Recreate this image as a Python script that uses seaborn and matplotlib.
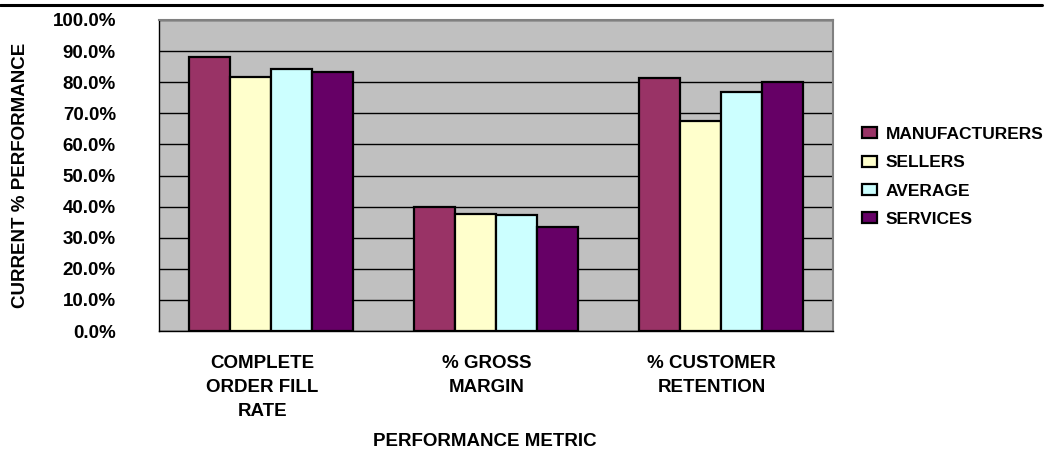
import matplotlib
matplotlib.use("Agg")
import matplotlib.pyplot as plt
from matplotlib.lines import Line2D
from matplotlib.patches import Patch
from matplotlib.transforms import ScaledTranslation
from matplotlib.ticker import FixedLocator, PercentFormatter
import numpy as np
import pandas as pd
import seaborn as sns

# Performance metrics (categories) and the groups compared on each
metrics = ["COMPLETE\nORDER FILL\nRATE", "% GROSS\nMARGIN", "% CUSTOMER\nRETENTION"]
groups = ["MANUFACTURERS", "SELLERS", "AVERAGE", "SERVICES"]

manufacturers = [88.2, 40.0, 81.4]
sellers = [81.8, 37.6, 67.6]
average = [84.1, 37.2, 76.8]
services = [83.4, 33.5, 80.2]

y_ticks = [0, 10, 20, 30, 40, 50, 60, 70, 80, 90, 100]

colors = ["#993366", "#FFFFCC", "#CCFFFF", "#660066"]

df = pd.DataFrame({
    "metric": metrics * 4,
    "group": [g for g in groups for _ in metrics],
    "value": manufacturers + sellers + average + services,
})

sns.set_theme(style="white")
plt.rcParams["font.family"] = ["Liberation Sans", "DejaVu Sans"]
plt.rcParams["font.weight"] = "bold"
plt.rcParams["text.color"] = "black"
plt.rcParams["xtick.color"] = "black"
plt.rcParams["ytick.color"] = "black"
plt.rcParams["axes.labelcolor"] = "black"

FS = 13.5

fig = plt.figure(figsize=(10.55, 4.49), dpi=100)
ax = fig.add_axes([159 / 1055, 1 - 331 / 449, (833 - 159) / 1055, (331 - 20) / 449])

sns.barplot(data=df, x="metric", y="value", hue="group", order=metrics,
            hue_order=groups, palette=colors, width=0.73, saturation=1,
            edgecolor="black", linewidth=1.6, ax=ax, zorder=3)

ax.set_facecolor("#C0C0C0")
ax.set_ylim(0, 100)
ax.set_xlim(-0.5, len(metrics) - 0.5)
ax.yaxis.set_major_locator(FixedLocator(y_ticks))
ax.yaxis.set_major_formatter(PercentFormatter(decimals=1))
ax.grid(axis="y", color="black", linewidth=1.0, zorder=1)
ax.set_axisbelow(True)

for side in ["top", "right"]:
    ax.spines[side].set_color("#808080")
    ax.spines[side].set_linewidth(1.5)
for side in ["left", "bottom"]:
    ax.spines[side].set_color("black")
    ax.spines[side].set_linewidth(1.0)

# y ticks
ax.tick_params(axis="y", direction="out", length=7, width=1, color="black",
               pad=24, labelsize=FS, labelcolor="black")
for lbl in ax.get_yticklabels():
    lbl.set_fontweight("bold")

# category boundaries as minor ticks, labels centred on categories
ax.set_xticks(np.arange(-0.5, len(metrics), 1.0), minor=True)
ax.tick_params(axis="x", which="minor", direction="out", length=6, width=1, color="black")
ax.tick_params(axis="x", which="major", length=0, pad=17, labelsize=FS, labelcolor="black")
for lbl in ax.get_xticklabels():
    lbl.set_fontweight("bold")
    lbl.set_linespacing(1.55)
    lbl.set_transform(lbl.get_transform() + ScaledTranslation(-0.09, 0, fig.dpi_scale_trans))

ax.set_xlabel("")
ax.set_ylabel("CURRENT % PERFORMANCE", fontsize=FS, fontweight="bold", labelpad=0)
ax.yaxis.set_label_coords(-130 / 674, 0.5)

fig.text(485 / 1055, 1 - 441 / 449, "PERFORMANCE METRIC", ha="center", va="center",
         fontsize=FS, fontweight="bold")

# legend
ax.get_legend().remove()
handles = [Patch(facecolor=c, edgecolor="black", linewidth=1.6) for c in colors]
fig.legend(handles, groups, loc="upper left", bbox_to_anchor=(855 / 1055, 1 - 120 / 449),
           frameon=False, handlelength=0.85, handleheight=0.6,
           handletextpad=0.5, labelspacing=0.77, borderaxespad=0,
           prop={"weight": "bold", "size": 12.5})

# rule along the top of the page
fig.add_artist(Line2D([0, 1042 / 1055], [1 - 5 / 449, 1 - 5 / 449],
                      color="black", linewidth=2.2, transform=fig.transFigure))

fig.savefig("out.png", dpi=100)
